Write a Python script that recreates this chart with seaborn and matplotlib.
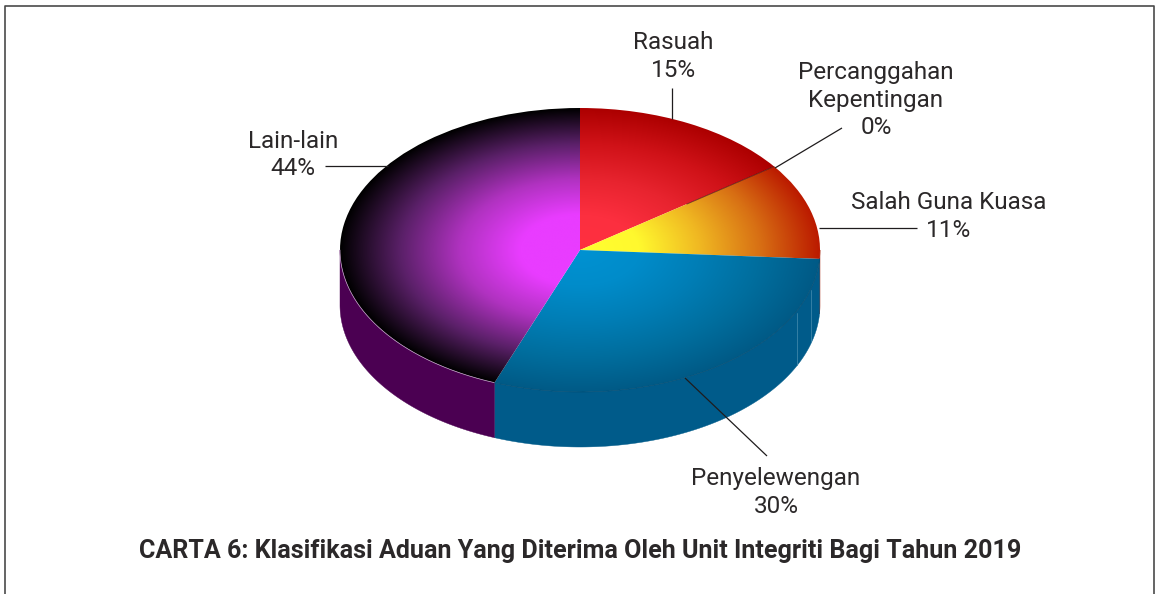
import numpy as np
import matplotlib
matplotlib.use("Agg")
import matplotlib.pyplot as plt
import seaborn as sns
from matplotlib.lines import Line2D

categories = ["Rasuah", "Percanggahan\nKepentingan", "Salah Guna Kuasa", "Penyelewengan", "Lain-lain"]
values = [15, 0, 11, 29.8, 44.2]
title = "CARTA 6: Klasifikasi Aduan Yang Diterima Oleh Unit Integriti Bagi Tahun 2019"

gradients = [
    ["#ff3040", "#fc2f3f", "#e8242f", "#d01218", "#ac0000"],
    ["#ff3040", "#ff3040", "#d81a24", "#c00c10", "#ac0000"],
    ["#ffff30", "#fff82e", "#f0b822", "#d87014", "#bb1a00"],
    ["#0092d2", "#008cca", "#007eb6", "#006e9e", "#005a86"],
    ["#e93cff", "#e93cff", "#b032c0", "#5a2068", "#000000"],
]
wall_colors = ["#8a0000", "#8a0000", "#a01a00", "#005b8a", "#4b0052"]

W, H = 1157, 594
CX, CY, RX, RY, DEPTH = 580, 250, 240, 142, 55

sns.set_theme(style="white")
plt.rcParams["font.family"] = ["Roboto", "DejaVu Sans"]
TXT = "#2b2829"

fig = plt.figure(figsize=(W / 100, H / 100), dpi=100, facecolor="white")
ax = fig.add_axes([0, 0, 1, 1])


def px(x, y):
    return (x - CX) / RX, (CY - y) / RY


wedges, _ = ax.pie(values, startangle=90, counterclock=False, radius=1,
                   wedgeprops=dict(linewidth=0, edgecolor="none"), normalize=True)
for w in wedges:
    w.set_facecolor("none")

# side wall, derived from the slice values
d = DEPTH / RY
fr = np.cumsum([0] + values) / sum(values) * 2 * np.pi
for i in range(len(values)):
    a0, a1 = max(fr[i], np.pi / 2), min(fr[i + 1], 3 * np.pi / 2)
    if a1 <= a0:
        continue
    t = np.linspace(a0, a1, 200)
    xs, ys = np.sin(t), np.cos(t)
    ax.fill(np.r_[xs, xs[::-1]], np.r_[ys, ys[::-1] - d], color=wall_colors[i], lw=0.3, zorder=1)

# top surface with radial gradients, clipped to each wedge
g = np.linspace(-1.02, 1.02, 900)
XX, YY = np.meshgrid(g, g)
RR = np.clip(np.hypot(XX, YY), 0, 1)
for i, w in enumerate(wedges):
    if values[i] == 0:
        continue
    cmap = sns.blend_palette(gradients[i], as_cmap=True)
    im = ax.imshow(RR, extent=(-1.02, 1.02, -1.02, 1.02), origin="lower", cmap=cmap,
                   vmin=0, vmax=1, aspect="auto", zorder=2, interpolation="bilinear")
    w.set_zorder(2)
    im.set_clip_path(w)

# rim highlights
t = np.linspace(fr[4], 1.5 * np.pi, 150)
ax.plot(np.sin(t), np.cos(t), color="#c9a6cf", lw=0.5, zorder=3)
t = np.linspace(np.pi / 2 + 0.06, fr[4], 200)
ax.plot(np.sin(t), np.cos(t), color="#00486e", lw=0.4, zorder=3)

# dark seam on the boundary between Rasuah and Salah Guna Kuasa
r = np.linspace(0.55, 1.0, 2)
ax.plot(r * np.sin(fr[2]), r * np.cos(fr[2]), color="#3a0505", lw=0.6, alpha=0.7, zorder=3)

# seams on the blue wall
for x0, y0, y1 in [(797, 313, 365), (811, 290, 341)]:
    p0, p1 = px(x0, y0), px(x0, y1)
    ax.plot([p0[0], p1[0]], [p0[1], p1[1]], color="#3c86aa", lw=0.6, zorder=3)

ax.set_aspect("auto")
ax.set_xlim(-CX / RX, (W - CX) / RX)
ax.set_ylim((CY - H) / RY, CY / RY)
ax.axis("off")

# labels and leader lines, in the order of categories
label_pos = [(673, 56.5), (876, 100), (949, 216.5), (776, 492.5), (293, 155)]
leaders = [
    [(672, 88), (672, 119)],
    [(842, 128), (775, 168)],
    [(819, 228), (917, 228)],
    [(685, 378), (767, 456)],
    [(325, 166), (388, 166)],
]
for name, v, pos, seg in zip(categories, values, label_pos, leaders):
    x, y = px(*pos)
    ax.text(x, y, f"{name}\n{v:.0f}%", ha="center", va="center", fontsize=17.5, color=TXT,
            linespacing=1.27, zorder=5)
    (x0, y0), (x1, y1) = px(*seg[0]), px(*seg[1])
    ax.plot([x0, x1], [y0, y1], color="#1f1c1d", lw=0.9, zorder=4, solid_capstyle="butt")

fig.text(580 / W, 1 - 551 / H, title, ha="center", va="center", fontsize=18.1,
         fontweight="bold", color=TXT)

# frame
fx = lambda v: v / W
fy = lambda v: 1 - v / H
fig.add_artist(Line2D([fx(4.5), fx(4.5), fx(1153.5), fx(1153.5)], [fy(594), fy(6), fy(6), fy(594)],
                      color="#4a4a4a", lw=1.2))

fig.savefig("out.png", dpi=100, facecolor="white")
